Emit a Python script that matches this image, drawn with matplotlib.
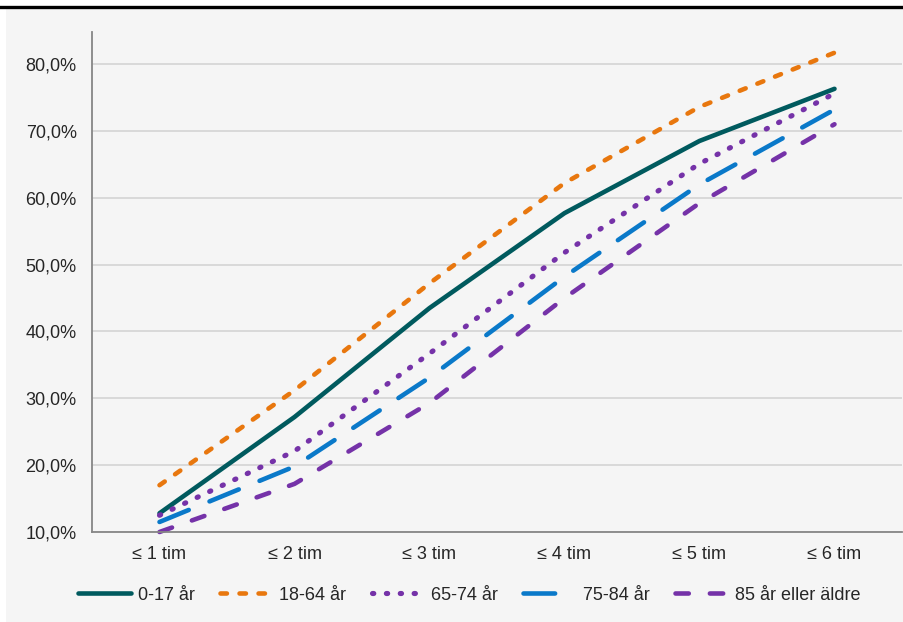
import matplotlib
matplotlib.use("Agg")
import matplotlib.pyplot as plt
from matplotlib.lines import Line2D
from matplotlib.patches import Rectangle
from matplotlib.ticker import FuncFormatter

plt.rcParams["font.family"] = ["Liberation Sans", "DejaVu Sans"]

categories = ["≤ 1 tim", "≤ 2 tim", "≤ 3 tim", "≤ 4 tim", "≤ 5 tim", "≤ 6 tim"]
age_0_17 = [12.8, 27.2, 43.5, 57.7, 68.5, 76.3]
age_18_64 = [17.0, 31.2, 47.2, 62.2, 73.6, 81.7]
age_65_74 = [12.5, 22.1, 36.7, 51.8, 65.1, 75.6]
age_75_84 = [11.5, 19.8, 33.1, 48.2, 62.0, 73.2]
age_85_plus = [10.0, 17.2, 29.3, 45.0, 59.2, 71.0]
labels = ["0-17 år", "18-64 år", "65-74 år", "75-84 år", "85 år eller äldre"]

W, H = 904, 622
fig = plt.figure(figsize=(W / 100, H / 100), dpi=100, facecolor="white")

# grey panel and black rule at the top
fig.patches.append(Rectangle((6 / W, 0), 1 - 6 / W, 1 - 9 / H, transform=fig.transFigure,
                             facecolor="#f5f5f5", edgecolor="none", zorder=-10))
fig.lines.append(Line2D([0, 1], [1 - 6.5 / H, 1 - 6.5 / H], transform=fig.transFigure,
                        color="black", lw=2.4, zorder=-5))

ax = fig.add_axes([92 / W, 1 - 532 / H, (902 - 92) / W, (532 - 32) / H])
ax.set_facecolor("none")

x = range(len(categories))
lw = 3.3
styles = [
    (age_0_17, "#005a5e", None, lw),
    (age_18_64, "#e8770e", (1.4, 2.75), lw),
    (age_65_74, "#7532a8", (0.25, 2.45), 3.7),
    (age_75_84, "#0a79c9", (6.9, 4.9), lw),
    (age_85_plus, "#7532a8", (2.9, 4.6), lw),
]
handles = []
for (vals, color, dashes, w), label in zip(styles, labels):
    if dashes is None:
        ax.plot(x, vals, color=color, lw=w, solid_capstyle="round", solid_joinstyle="round",
                label=label, clip_on=False)
        handle = Line2D([], [], color=color, lw=w, solid_capstyle="round")
    else:
        ax.plot(x, vals, color=color, lw=w, dashes=dashes, dash_capstyle="round",
                dash_joinstyle="round", label=label, clip_on=False)
        handle = Line2D([], [], color=color, lw=w, dashes=dashes, dash_capstyle="round")
    handles.append(handle)

ax.set_xlim(-0.5, len(categories) - 0.5)
ax.set_ylim(10, 84.8)
ax.set_yticks([10, 20, 30, 40, 50, 60, 70, 80])
ax.yaxis.set_major_formatter(FuncFormatter(lambda v, p: f"{v:.1f}%".replace(".", ",")))
ax.set_xticks(list(x))
ax.set_xticklabels(categories)
ax.tick_params(axis="both", length=0, labelsize=13, colors="#262626")
ax.tick_params(axis="y", pad=11)
ax.tick_params(axis="x", pad=10)
ax.grid(axis="y", color="#d9d9d9", lw=1.4)
ax.set_axisbelow(True)
for side in ["top", "right"]:
    ax.spines[side].set_visible(False)
for side in ["left", "bottom"]:
    ax.spines[side].set_color("#868686")
    ax.spines[side].set_linewidth(1.3)

leg = fig.legend(handles=handles, labels=labels, loc="center", bbox_to_anchor=(469 / W, 1 - 595 / H),
                 ncol=5, frameon=False, fontsize=13, handlelength=2.95, handletextpad=0.35,
                 columnspacing=1.4)
for t in leg.get_texts():
    t.set_color("#262626")

fig.savefig("out.png", dpi=100, facecolor="white")
